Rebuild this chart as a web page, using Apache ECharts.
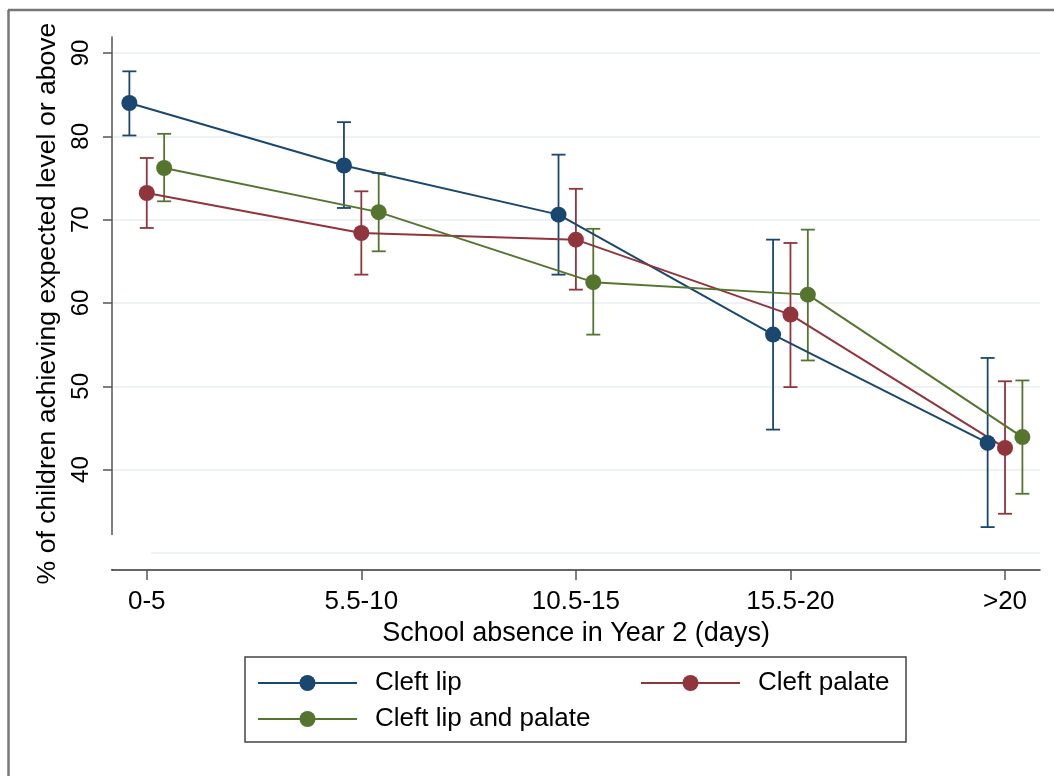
<!DOCTYPE html>
<html>
<head>
<meta charset="utf-8">
<script src="https://cdn.jsdelivr.net/npm/echarts@6/dist/echarts.min.js"></script>
<style>
  html, body { margin: 0; padding: 0; background: #fff; }
  #main { width: 1054px; height: 776px; }
</style>
</head>
<body>
<div id="main"></div>
<script>
// Absence bands (x axis) and tick values (y axis)
const categories = ['0-5', '5.5-10', '10.5-15', '15.5-20', '>20'];
const yTicks = [30, 40, 50, 60, 70, 80, 90];
const yLabels = [40, 50, 60, 70, 80, 90];

// % achieving expected level, with 95% CI bounds
const lip      = [84.0, 76.5, 70.6, 56.2, 43.2];
const lipLo    = [80.1, 71.4, 63.4, 44.8, 33.1];
const lipHi    = [87.8, 81.7, 77.8, 67.6, 53.4];

const palate   = [73.2, 68.4, 67.6, 58.6, 42.6];
const palateLo = [69.0, 63.4, 61.6, 49.9, 34.7];
const palateHi = [77.4, 73.4, 73.7, 67.2, 50.6];

const both     = [76.2, 70.9, 62.5, 61.0, 43.9];
const bothLo   = [72.2, 66.2, 56.2, 53.1, 37.1];
const bothHi   = [80.3, 75.6, 68.9, 68.8, 50.7];

const FONT = '"Liberation Sans", Arial, sans-serif';
const NAVY = '#1a476f', MAROON = '#90353b', GREEN = '#55752f';
const DODGE = 0.081; // horizontal dodge between groups within a band

function pointSeries(name, color, offset, vals) {
  return {
    type: 'line',
    name: name,
    data: vals.map((v, i) => [i + 1 + offset, v]),
    symbol: 'circle',
    symbolSize: 16,
    lineStyle: { color: color, width: 2 },
    itemStyle: { color: color },
    z: 3,
    silent: true
  };
}

function capSeries(name, color, offset, lo, hi) {
  return {
    type: 'custom',
    name: name + ' CI',
    data: lo.map((l, i) => [i + 1 + offset, l, hi[i]]),
    encode: { x: 0, y: [1, 2] },
    z: 2,
    silent: true,
    renderItem(params, api) {
      const x = api.value(0);
      const a = api.coord([x, api.value(1)]);
      const b = api.coord([x, api.value(2)]);
      const w = 7;
      const st = { stroke: color, lineWidth: 1.8 };
      return {
        type: 'group',
        children: [
          { type: 'line', shape: { x1: a[0], y1: a[1], x2: b[0], y2: b[1] }, style: st },
          { type: 'line', shape: { x1: a[0] - w, y1: a[1], x2: a[0] + w, y2: a[1] }, style: st },
          { type: 'line', shape: { x1: b[0] - w, y1: b[1], x2: b[0] + w, y2: b[1] }, style: st }
        ]
      };
    }
  };
}

function legendItem(name, left, top) {
  return {
    data: [name],
    left: left,
    top: top,
    padding: 0,
    itemWidth: 99,
    itemHeight: 20,
    selectedMode: false,
    textStyle: { fontSize: 26, fontFamily: FONT, color: '#000', padding: [0, 0, 0, 13] }
  };
}

const chart = echarts.init(document.getElementById('main'));
chart.setOption({
  animation: false,
  backgroundColor: '#fff',
  grid: { left: 112, right: 14, top: 37, bottom: 206, containLabel: false },
  xAxis: {
    type: 'value',
    min: 0.838,
    max: 5.163,
    name: 'School absence in Year 2 (days)',
    nameLocation: 'middle',
    nameGap: 44,
    nameTextStyle: { fontSize: 27, fontFamily: FONT, color: '#000' },
    axisLine: { show: true, onZero: false, lineStyle: { color: '#333', width: 1.5 } },
    axisTick: { show: true, length: 10, lineStyle: { color: '#555', width: 1.5 }, customValues: [1, 2, 3, 4, 5] },
    axisLabel: {
      customValues: [1, 2, 3, 4, 5],
      formatter: v => categories[Math.round(v) - 1],
      fontSize: 26, fontFamily: FONT, color: '#000', margin: 19
    },
    splitLine: { show: false }
  },
  yAxis: {
    type: 'value',
    min: 27.95,
    max: 91.92,
    name: '% of children achieving expected level or above',
    nameLocation: 'middle',
    nameRotate: 90,
    nameGap: 42,
    nameTextStyle: { fontSize: 26.6, fontFamily: FONT, color: '#000' },
    axisLine: { show: true, onZero: false, lineStyle: { color: '#555', width: 1.5 } },
    axisTick: { show: true, length: 9, lineStyle: { color: '#555', width: 1.5 }, customValues: yTicks },
    axisLabel: {
      customValues: yLabels,
      rotate: 90,
      fontSize: 24, fontFamily: FONT, color: '#000', margin: 19
    },
    splitLine: { show: true, lineStyle: { color: '#e7eff2', width: 1.5 } }
  },
  legend: [
    legendItem('Cleft lip', 257, 670),
    legendItem('Cleft palate', 640, 670),
    legendItem('Cleft lip and palate', 257, 706)
  ],
  graphic: [
    { type: 'line', z: 100, shape: { x1: 8, y1: 10, x2: 1054, y2: 10 }, style: { stroke: '#777', lineWidth: 2.5 } },
    { type: 'line', z: 100, shape: { x1: 8.5, y1: 10, x2: 8.5, y2: 776 }, style: { stroke: '#777', lineWidth: 2.5 } },
    { type: 'rect', z: 100, shape: { x: 245, y: 657, width: 661, height: 85 }, style: { fill: 'none', stroke: '#444', lineWidth: 1.5 } },
    { type: 'rect', z: 100, shape: { x: 72, y: 535, width: 79, height: 34 }, style: { fill: '#fff' } }
  ],
  series: [
    capSeries('Cleft lip', NAVY, -DODGE, lipLo, lipHi),
    capSeries('Cleft palate', MAROON, 0, palateLo, palateHi),
    capSeries('Cleft lip and palate', GREEN, DODGE, bothLo, bothHi),
    pointSeries('Cleft lip', NAVY, -DODGE, lip),
    pointSeries('Cleft palate', MAROON, 0, palate),
    pointSeries('Cleft lip and palate', GREEN, DODGE, both)
  ]
});
</script>
</body>
</html>
